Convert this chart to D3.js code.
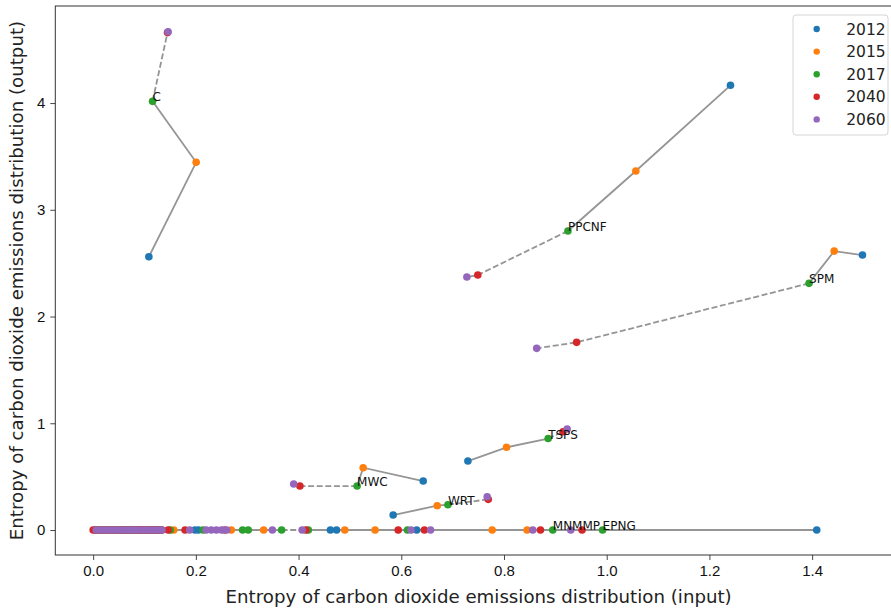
<!DOCTYPE html>
<html>
<head>
<meta charset="utf-8">
<script src="https://cdn.jsdelivr.net/npm/d3@7"></script>
<style>
  html, body { margin: 0; padding: 0; background: #fff; }
  svg { display: block; }
</style>
</head>
<body>
<div id="chart"></div>
<script>
(function () {
  'use strict';

  // --- data ---
  const years = [2012, 2015, 2017, 2040, 2060];
  const colors = ['#1f77b4', '#ff7f0e', '#2ca02c', '#d62728', '#9467bd'];

  // sectors with a non-zero output entropy
  const sectors = ['C', 'PPCNF', 'SPM', 'TSPS', 'MWC', 'WRT'];
  const input2012 = [0.1085, 1.241, 1.498, 0.7297, 0.6427, 0.5842];
  const output2012 = [2.560, 4.166, 2.576, 0.646, 0.459, 0.1405];
  const input2015 = [0.2006, 1.0567, 1.443, 0.805, 0.5258, 0.670];
  const output2015 = [3.445, 3.363, 2.613, 0.775, 0.584, 0.228];
  const input2017 = [0.1157, 0.9245, 1.394, 0.886, 0.514, 0.6908];
  const output2017 = [4.016, 2.801, 2.311, 0.857, 0.412, 0.237];
  const input2040 = [0.1448, 0.749, 0.9414, 0.915, 0.4026, 0.7693];
  const output2040 = [4.660, 2.389, 1.758, 0.921, 0.412, 0.2875];
  const input2060 = [0.146, 0.7277, 0.8637, 0.923, 0.3905, 0.7673];
  const output2060 = [4.668, 2.370, 1.702, 0.946, 0.431, 0.312];

  // sectors whose output entropy stays at zero (only two are labelled)
  const flatSectors = ['MNMMP', 'EPNG', '', '', '', '', '', '', '', '', '', '',
    '', '', '', '', '', '', '', '', '', '', '', '', '', '', '', '', ''];
  const flat2012 = [0.630, 1.409, 0.474, 0.462, 0.205, 0.198, 0.125, 0.110, 0.095, 0.090, 0.085, 0.080,
    0.004, 0.010, 0.018, 0.025, 0.032, 0.040, 0.047, 0.055, 0.060, 0.068, 0.074, 0.082, 0.088, 0.095, 0.100, 0.108, 0.114];
  const flat2015 = [0.777, 0.845, 0.549, 0.490, 0.332, 0.269, 0.157, 0.130, 0.118, 0.105, 0.100, 0.095,
    0.005, 0.012, 0.020, 0.028, 0.035, 0.043, 0.050, 0.058, 0.065, 0.073, 0.080, 0.088, 0.097, 0.104, 0.112, 0.120, 0.126];
  const flat2017 = [0.895, 0.992, 0.612, 0.419, 0.367, 0.302, 0.291, 0.214, 0.150, 0.128, 0.083, 0.056,
    0.006, 0.013, 0.021, 0.030, 0.037, 0.045, 0.052, 0.060, 0.068, 0.075, 0.088, 0.092, 0.100, 0.108, 0.116, 0.124, 0.132];
  const flat2040 = [0.871, 0.952, 0.645, 0.594, 0.414, 0.256, 0.179, 0.146, 0.000, 0.120, 0.110, 0.090,
    0.006, 0.014, 0.022, 0.030, 0.038, 0.046, 0.054, 0.062, 0.070, 0.078, 0.086, 0.094, 0.102, 0.110, 0.118, 0.126, 0.134];
  const flat2060 = [0.856, 0.930, 0.657, 0.619, 0.407, 0.349, 0.188, 0.260, 0.250, 0.240, 0.230, 0.220,
    0.006, 0.014, 0.022, 0.030, 0.038, 0.046, 0.054, 0.062, 0.070, 0.078, 0.086, 0.094, 0.102, 0.110, 0.118, 0.126, 0.134];

  const xTicks = [0.0, 0.2, 0.4, 0.6, 0.8, 1.0, 1.2, 1.4];
  const yTicks = [0, 1, 2, 3, 4];

  // --- build per-sector paths ---
  const inputs = [input2012, input2015, input2017, input2040, input2060];
  const outputs = [output2012, output2015, output2017, output2040, output2060];
  const flats = [flat2012, flat2015, flat2017, flat2040, flat2060];

  const series = [];
  sectors.forEach(function (name, i) {
    series.push({ name: name, pts: years.map(function (yr, k) { return [inputs[k][i], outputs[k][i]]; }) });
  });
  flatSectors.forEach(function (name, i) {
    series.push({ name: name, pts: years.map(function (yr, k) { return [flats[k][i], 0]; }) });
  });

  const width = 891, height = 609;
  const left = 55.3, right = 902, top = 6, bottom = 555;

  const x = d3.scaleLinear().domain([-0.0737, 1.575]).range([left, right]);
  const y = d3.scaleLinear().domain([-0.234, 4.909]).range([bottom, top]);

  const svg = d3.select('#chart').append('svg')
    .attr('width', width)
    .attr('height', height);

  const line = d3.line().x(function (d) { return x(d[0]); }).y(function (d) { return y(d[1]); });

  const g = svg.append('g');

  // solid 2012 -> 2017, dashed 2017 -> 2060
  series.forEach(function (s) {
    g.append('path')
      .attr('d', line(s.pts.slice(0, 3)))
      .attr('fill', 'none')
      .attr('stroke', '#959595')
      .attr('stroke-width', 1.8);
    g.append('path')
      .attr('d', line(s.pts.slice(2)))
      .attr('fill', 'none')
      .attr('stroke', '#959595')
      .attr('stroke-width', 1.8)
      .attr('stroke-dasharray', '6,2.6');
  });

  years.forEach(function (yr, k) {
    g.selectAll('circle.y' + yr)
      .data(series)
      .enter()
      .append('circle')
      .attr('class', 'y' + yr)
      .attr('cx', function (s) { return x(s.pts[k][0]); })
      .attr('cy', function (s) { return y(s.pts[k][1]); })
      .attr('r', 3.8)
      .attr('fill', colors[k]);
  });

  g.selectAll('text.lbl')
    .data(series.filter(function (s) { return s.name; }))
    .enter()
    .append('text')
    .attr('class', 'lbl')
    .attr('x', function (s) { return x(s.pts[2][0]); })
    .attr('y', function (s) { return y(s.pts[2][1]); })
    .attr('font-family', 'DejaVu Sans')
    .attr('font-size', 12)
    .attr('fill', '#111')
    .text(function (s) { return s.name; });

  // axes
  const xAxis = svg.append('g')
    .attr('transform', 'translate(0,' + bottom + ')')
    .call(d3.axisBottom(x).tickValues(xTicks).tickFormat(d3.format('.1f')).tickSizeOuter(0).tickSize(5).tickPadding(5));
  const yAxis = svg.append('g')
    .attr('transform', 'translate(' + left + ',0)')
    .call(d3.axisLeft(y).tickValues(yTicks).tickFormat(d3.format('d')).tickSizeOuter(0).tickSize(5).tickPadding(5));

  [xAxis, yAxis].forEach(function (a) {
    a.select('.domain').remove();
    a.selectAll('line').attr('stroke', '#333').attr('stroke-width', 0.9);
    a.selectAll('text')
      .attr('font-family', 'Liberation Sans, Arial, sans-serif')
      .attr('font-size', 15)
      .attr('fill', '#111');
  });

  svg.append('rect')
    .attr('x', left)
    .attr('y', top)
    .attr('width', right - left)
    .attr('height', bottom - top)
    .attr('fill', 'none')
    .attr('stroke', '#333')
    .attr('stroke-width', 1);

  svg.append('text')
    .attr('x', (left + right) / 2)
    .attr('y', 603)
    .attr('text-anchor', 'middle')
    .attr('font-family', 'DejaVu Sans')
    .attr('font-size', 18.2)
    .attr('fill', '#222')
    .text('Entropy of carbon dioxide emissions distribution (input)');

  svg.append('text')
    .attr('transform', 'translate(23,' + (top + bottom) / 2 + ') rotate(-90)')
    .attr('text-anchor', 'middle')
    .attr('font-family', 'DejaVu Sans')
    .attr('font-size', 18.2)
    .attr('fill', '#222')
    .text('Entropy of carbon dioxide emissions distribution (output)');

  // legend
  const legend = svg.append('g');
  legend.append('rect')
    .attr('x', 793)
    .attr('y', 15)
    .attr('width', 95)
    .attr('height', 120)
    .attr('rx', 3)
    .attr('fill', '#fff')
    .attr('fill-opacity', 0.8)
    .attr('stroke', '#d5d5d5');

  const rows = legend.selectAll('g.row')
    .data(years)
    .enter()
    .append('g')
    .attr('class', 'row')
    .attr('transform', function (d, i) { return 'translate(816.7,' + (29 + i * 22.6) + ')'; });

  rows.append('circle')
    .attr('r', 3.2)
    .attr('fill', function (d, i) { return colors[i]; });

  rows.append('text')
    .attr('x', 29.5)
    .attr('dy', '0.36em')
    .attr('font-family', 'DejaVu Sans')
    .attr('font-size', 15.5)
    .attr('fill', '#222')
    .text(function (d) { return d; });
})();
</script>
</body>
</html>
